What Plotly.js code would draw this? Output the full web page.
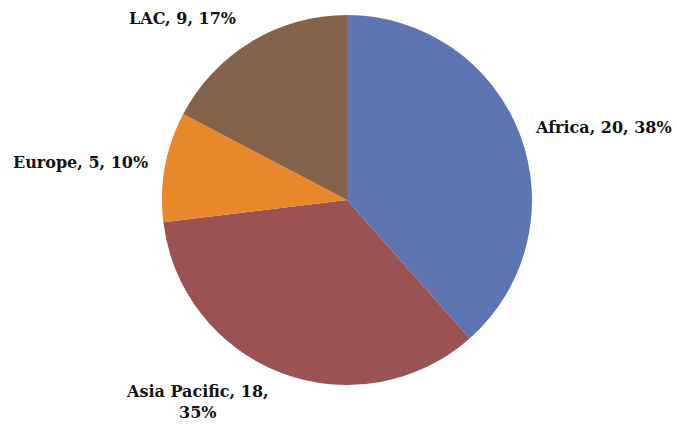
<!DOCTYPE html>
<html><head><meta charset="utf-8">
<script src="https://cdn.plot.ly/plotly-3.0.1.min.js"></script>
<style>html,body{margin:0;padding:0;background:#fff}#chart{width:677px;height:424px}</style>
</head><body><div id="chart"></div>
<script>
const regions = ["Africa", "Asia Pacific", "Europe", "LAC"];
const counts = [20, 18, 5, 9];
const sliceColors = ["#5E75B3", "#9A5252", "#E8882A", "#83644A"];

const total = counts.reduce((a,b)=>a+b,0);
const pct = counts.map(v => Math.round(v/total*100) + "%");
const labelText = regions.map((r,i) => r + ", " + counts[i] + ", " + pct[i]);
labelText[1] = regions[1] + ", " + counts[1] + ",<br>" + pct[1];

const labelPos = [
  {x: 603/677, y: 1-127/424},
  {x: 198/677, y: 1-402/424},
  {x: 80/677,  y: 1-162/424},
  {x: 183/677, y: 1-19/424}
];

const annotations = labelText.map((t,i) => ({
  text: "<b>" + t + "</b>", xref: "paper", yref: "paper",
  x: labelPos[i].x, y: labelPos[i].y, xanchor: "center", yanchor: "middle",
  showarrow: false, align: "center",
  font: {family: "DejaVu Serif", size: 16, color: "#111"}
}));

Plotly.newPlot("chart", [{
  type: "pie", labels: regions, values: counts, sort: false,
  direction: "clockwise", rotation: 0,
  marker: {colors: sliceColors, line: {width: 0}},
  textinfo: "none", hoverinfo: "label+value+percent",
  domain: {x: [162/677, 532/677], y: [39/424, 409/424]}
}], {
  width: 677, height: 424, margin: {l:0,r:0,t:0,b:0},
  paper_bgcolor: "#fff", showlegend: false, annotations: annotations
}, {displayModeBar: false, staticPlot: true});
</script></body></html>
